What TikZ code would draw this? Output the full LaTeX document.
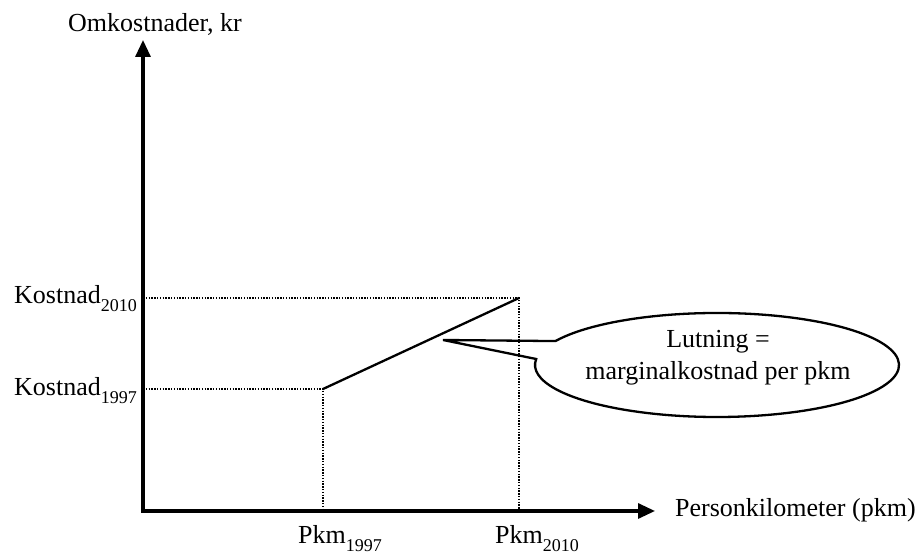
\documentclass[tikz,border=0pt]{standalone}
\usepackage{fontspec}
\setmainfont{Liberation Serif}
\usetikzlibrary{arrows.meta}

\newcommand{\yr}[1]{\raisebox{-8pt}{\fontsize{18}{18}\selectfont #1}}

\begin{document}
\begin{tikzpicture}[x=1pt,y=1pt,>={Triangle[length=17pt,width=15pt]},
        axis/.style={line width=3.2pt},
        guide/.style={line width=2.5pt,dash pattern=on 1.4pt off 1.4pt},
        curve/.style={line width=2.3pt},
        txt/.style={inner sep=0pt,font=\fontsize{26}{32}\selectfont}]

  \useasboundingbox (0,0) rectangle (924,556);

  \coordinate (O) at (143,45);
  \coordinate (ytop) at (143,516);
  \coordinate (xend) at (655,45);
  \coordinate (a) at (323,167);
  \coordinate (b) at (519,258);
  \coordinate (c) at (717,191);
  \coordinate (tip) at (443,216);

  % guides
  \draw[guide] (O |- b) -- (b) -- (b |- O);
  \draw[guide] (O |- a) -- (a) -- (a |- O);

  % axes
  \draw[axis,<->] (ytop) -- (O) -- (xend);

  \draw[curve] (a) -- (b);

  \node[txt,anchor=base west] (ylab) at (68,524) {Omkostnader, kr};
  \node[txt,anchor=base west] (xlab) at (675,39) {Personkilometer (pkm)};
  \node[txt,anchor=base east] (k2010) at (137,252) {Kostnad\yr{2010}};
  \node[txt,anchor=base east] (k1997) at (137,160) {Kostnad\yr{1997}};
  \node[txt,anchor=base west] (p1997) at (298,12) {Pkm\yr{1997}};
  \node[txt,anchor=base west] (p2010) at (495,12) {Pkm\yr{2010}};

  % callout
  \draw[curve] (tip) -- ([shift={(152.6:182 and 52)}]c)
    arc[start angle=152.6,end angle=-186.6,x radius=182,y radius=52] -- cycle;
  \node[txt,align=center] (lutning) at (718,198) {Lutning =\\marginalkostnad per pkm};

\end{tikzpicture}
\end{document}
